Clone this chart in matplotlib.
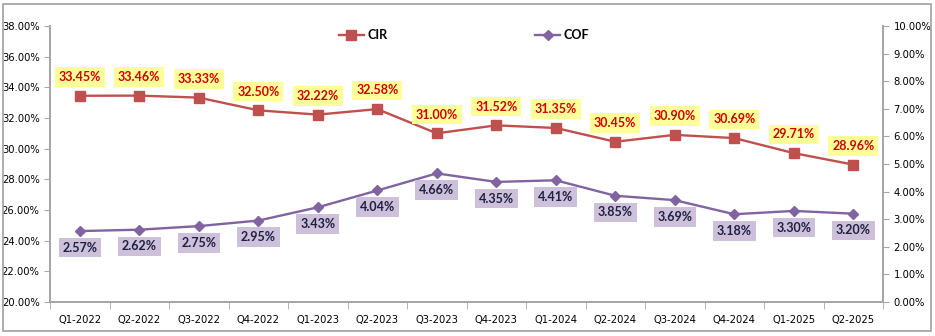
import matplotlib
matplotlib.use("Agg")
import matplotlib.pyplot as plt
from matplotlib.ticker import FuncFormatter, MultipleLocator
from matplotlib.patches import Rectangle

categories = ["Q1-2022", "Q2-2022", "Q3-2022", "Q4-2022", "Q1-2023", "Q2-2023", "Q3-2023",
              "Q4-2023", "Q1-2024", "Q2-2024", "Q3-2024", "Q4-2024", "Q1-2025", "Q2-2025"]
cir = [33.45, 33.46, 33.33, 32.50, 32.22, 32.58, 31.00, 31.52, 31.35, 30.45, 30.90, 30.69, 29.71, 28.96]
cof = [2.57, 2.62, 2.75, 2.95, 3.43, 4.04, 4.66, 4.35, 4.41, 3.85, 3.69, 3.18, 3.30, 3.20]

CIR_C = "#C0504D"
COF_C = "#8064A2"
AX_C = "#A6A6A6"

fig = plt.figure(figsize=(9.35, 3.36), dpi=100)
fig.patches.append(Rectangle((0.003, 0.015), 0.993, 0.972, transform=fig.transFigure,
                             fill=False, edgecolor="#A0A0A0", linewidth=1.2))
ax = fig.add_axes([50/935, 1-302/336, 833/935, 276/336])
ax2 = ax.twinx()

x = list(range(len(categories)))
ax.plot(x, cir, color=CIR_C, lw=1.7, marker="s", ms=6.5, label="CIR", zorder=3)
ax2.plot(x, cof, color=COF_C, lw=1.7, marker="D", ms=5, label="COF", zorder=3)

ax.set_xlim(-0.5, len(categories)-0.5)
ax.set_ylim(20, 38)
ax2.set_ylim(0, 10)
ax.yaxis.set_major_locator(MultipleLocator(2))
ax2.yaxis.set_major_locator(MultipleLocator(1))
fmt = FuncFormatter(lambda v, p: f"{v:.2f}%")
ax.yaxis.set_major_formatter(fmt)
ax2.yaxis.set_major_formatter(fmt)

ax.set_xticks(x)
ax.set_xticklabels(categories)
ax.set_xticks([i + 0.5 for i in x[:-1]] + [-0.5, len(categories)-0.5], minor=True)
ax.tick_params(axis="x", which="major", length=0, labelsize=7.2, pad=9)
ax.tick_params(axis="x", which="minor", length=5, color=AX_C)
ax.tick_params(axis="y", length=4, color=AX_C, labelsize=7.2)
ax2.tick_params(axis="y", length=4, color=AX_C, labelsize=7.2)

for a in (ax, ax2):
    a.spines["top"].set_visible(False)
    for s in ("left", "right", "bottom"):
        a.spines[s].set_color(AX_C)
        a.spines[s].set_linewidth(1.3)

LBL_FONT = ["Lato", "DejaVu Sans"]
for xi, v in zip(x, cir):
    ax.annotate(f"{v:.2f}%", (xi, v), xytext=(0, 13.5), textcoords="offset points",
                ha="center", va="center", fontsize=9, fontweight="bold", color="#D00000",
                family=LBL_FONT,
                bbox=dict(boxstyle="square,pad=0.3", fc="#FFFF99", ec="none"), zorder=5)
for xi, v in zip(x, cof):
    ax2.annotate(f"{v:.2f}%", (xi, v), xytext=(0, -12), textcoords="offset points",
                 ha="center", va="center", fontsize=9, fontweight="bold", color="#1F1F3F",
                 family=LBL_FONT,
                 bbox=dict(boxstyle="square,pad=0.3", fc="#CCC0DA", ec="none"), zorder=5)

h1, l1 = ax.get_legend_handles_labels()
h2, l2 = ax2.get_legend_handles_labels()
leg = ax.legend(h1 + h2, l1 + l2, loc="upper center", bbox_to_anchor=(0.497, 1.03), ncol=2,
                frameon=False, prop={"family": LBL_FONT, "size": 9, "weight": "bold"},
                columnspacing=11.8, handlelength=2.0, handletextpad=0.3)

fig.savefig("out.png", dpi=100)
